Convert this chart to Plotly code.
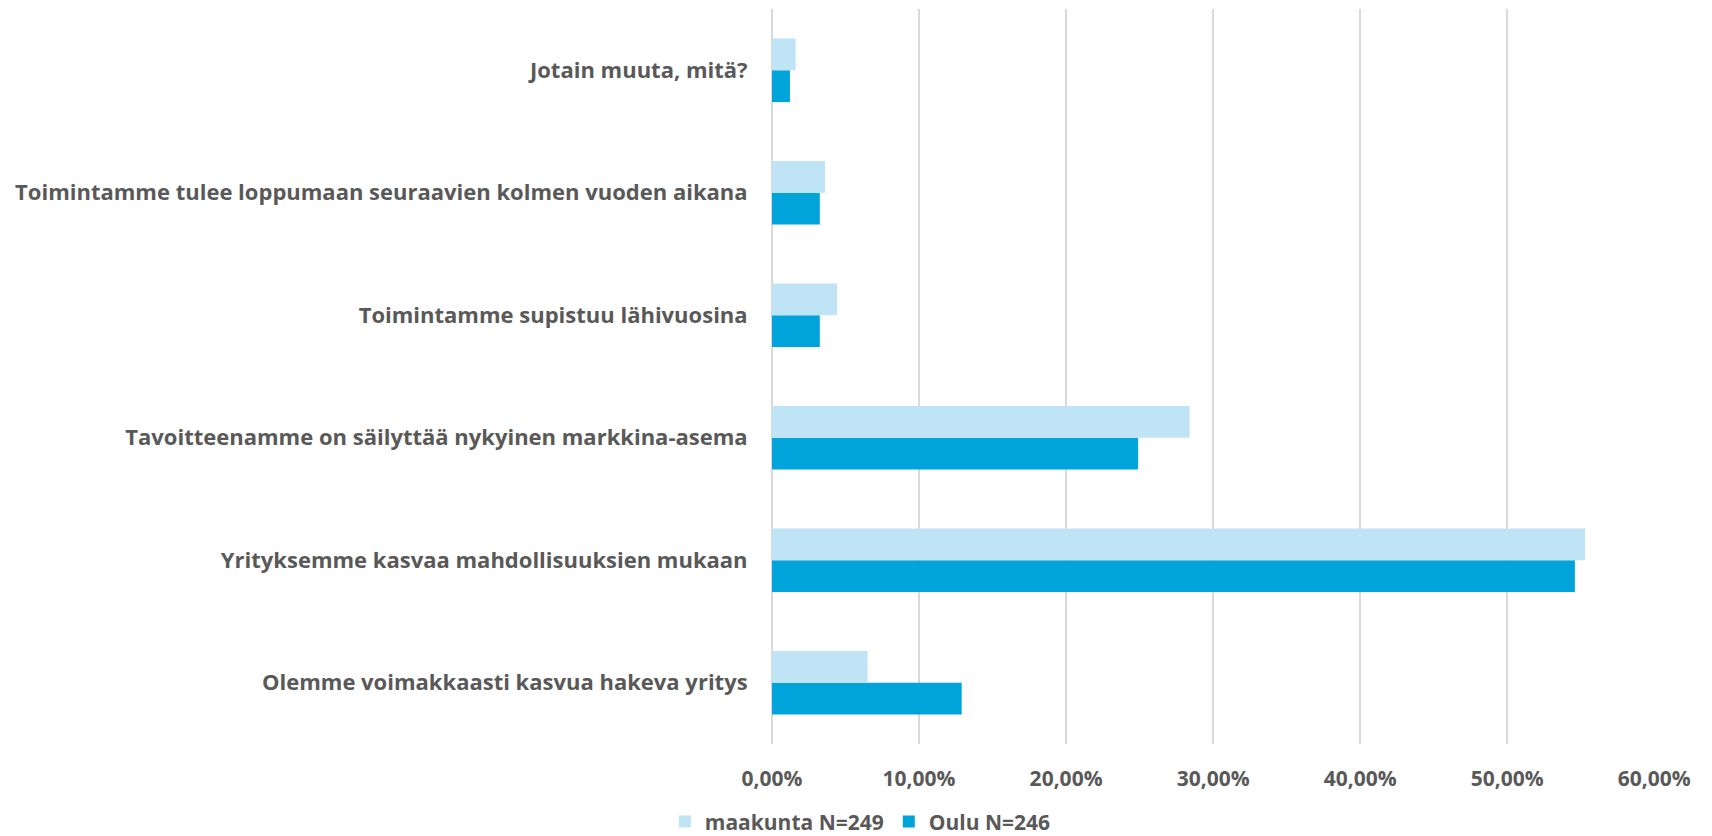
import plotly.graph_objects as go

categories = [
    "Olemme voimakkaasti kasvua hakeva yritys",
    "Yrityksemme kasvaa mahdollisuuksien mukaan",
    "Tavoitteenamme on säilyttää nykyinen markkina-asema",
    "Toimintamme supistuu lähivuosina",
    "Toimintamme tulee loppumaan seuraavien kolmen vuoden aikana",
    "Jotain muuta, mitä?",
]
maakunta = [0.065, 0.553, 0.284, 0.0442, 0.0361, 0.0161]
oulu = [0.129, 0.546, 0.249, 0.0325, 0.0325, 0.0122]

x_ticks = [0, 0.1, 0.2, 0.3, 0.4, 0.5, 0.6]

grey = "#595959"
font = dict(family="Open Sans", size=21, color=grey, weight="bold")
cat_font = dict(family="Open Sans", size=22, color=grey, weight="bold")

fig = go.Figure()
# Oulu first so it sits below maakunta in each group
fig.add_trace(go.Bar(y=categories, x=oulu, name="Oulu N=246", orientation="h",
                     marker=dict(color="#00a4da", line_width=0)))
fig.add_trace(go.Bar(y=categories, x=maakunta, name="maakunta N=249", orientation="h",
                     marker=dict(color="#bfe4f6", line_width=0)))

fig.update_layout(
    width=1704, height=828,
    margin=dict(l=764, r=57, t=1, b=92, autoexpand=False),
    plot_bgcolor="white", paper_bgcolor="white",
    barmode="group", bargap=0.48, bargroupgap=0,
    separators=", ",
    font=font,
    showlegend=True,
    legend=dict(orientation="h", traceorder="reversed", x=0.1, xanchor="center",
                y=-0.106, yanchor="middle", font=font, itemwidth=30),
)
fig.update_xaxes(range=[0, 0.6005], tickvals=x_ticks, tickformat=".2%",
                 showgrid=True, gridcolor="#d9d9d9", gridwidth=2,
                 zeroline=True, zerolinecolor="#d9d9d9", zerolinewidth=2,
                 ticks="outside", ticklen=16, tickcolor="rgba(0,0,0,0)",
                 tickfont=font, automargin=False)
fig.update_yaxes(ticks="outside", ticklen=19, tickcolor="rgba(0,0,0,0)",
                 showgrid=False, tickfont=cat_font, automargin=False)

fig.write_html("out.html")
